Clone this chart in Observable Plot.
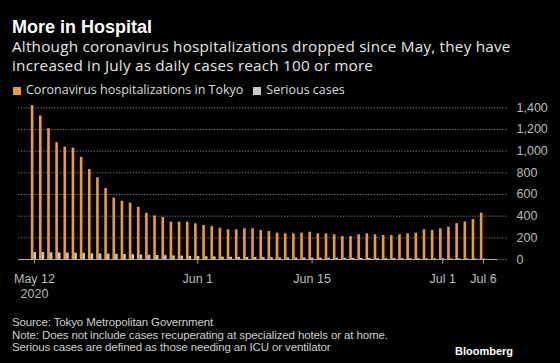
<!DOCTYPE html>
<html><head><meta charset="utf-8">
<script src="https://cdn.jsdelivr.net/npm/d3@7"></script>
<script src="https://cdn.jsdelivr.net/npm/@observablehq/plot@0.6"></script>
<style>
html,body{margin:0;padding:0;background:#000;}
body{width:560px;height:363px;position:relative;overflow:hidden;font-family:"Open Sans","Noto Sans",sans-serif;}
.t{position:absolute;white-space:nowrap;margin:0;}
#title{left:12px;top:18px;font-family:"Liberation Sans",Arial,sans-serif;font-weight:bold;font-size:18px;line-height:18px;color:#fff;}
#subtitle{left:12px;top:37px;font-size:15.3px;letter-spacing:0.2px;line-height:18.6px;color:#e6e6e6;}
#legend{left:13px;top:84px;font-size:12.5px;line-height:12.5px;color:#ddd;}
#legend span.sw{display:inline-block;width:8px;height:8px;margin-right:5px;vertical-align:-0.5px;}
#legend span.item{margin-right:10px;}
#chart{position:absolute;left:0;top:100px;}
#footer{left:12px;top:316px;font-family:"Liberation Sans Narrow","Liberation Sans",Arial,sans-serif;font-size:11.5px;letter-spacing:-0.12px;line-height:12.6px;color:#cfcfcf;}
#logo{left:455px;top:346px;font-family:"Liberation Sans",Arial,sans-serif;font-weight:bold;font-size:11px;line-height:11px;color:#fff;}
</style>
</head><body>
<div class="t" id="title">More in Hospital</div>
<div class="t" id="subtitle">Although coronavirus hospitalizations dropped since May, they have<br>increased in July as daily cases reach 100 or more</div>
<div class="t" id="legend"></div>
<div id="chart"></div>
<div class="t" id="footer">Source: Tokyo Metropolitan Government<br>Note: Does not include cases recuperating at specialized hotels or at home.<br>Serious cases are defined as those needing an ICU or ventilator</div>
<div class="t" id="logo">Bloomberg</div>
<script>
// ---- data ----
const startDate = "2020-05-12";
const endDate = "2020-07-06";
const hospitalized = [1420,1325,1207,1078,1037,1028,942,830,754,655,568,537,521,482,
  427,402,387,345,345,345,329,314,305,289,274,274,283,283,268,258,243,237,237,243,252,
  237,237,228,212,212,228,237,228,222,221,228,237,243,274,268,283,298,331,346,369,428];
const serious = [65,64,62,61,60,59,57,53,51,49,48,46,44,42,
  39,37,35,33,31,29,27,25,24,22,21,20,19,18,17,16,15,15,14,14,13,
  13,12,12,11,11,10,10,9,9,9,8,8,8,7,7,7,6,6,6,5,5];
const seriesNames = ["Coronavirus hospitalizations in Tokyo", "Serious cases"];
const seriesColors = ["#ec9a38", "#c8c8c8"];
const yTicks = [0,200,400,600,800,1000,1200,1400];
const xTickDates = ["2020-05-12","2020-06-01","2020-06-15","2020-07-01","2020-07-06"];
const xTickLabels = ["May 12\n2020","Jun 1","Jun 15","Jul 1","Jul 6"];

// ---- build ----
const DAY = 864e5;
const dates = d3.utcDay.range(new Date(startDate), d3.utcDay.offset(new Date(endDate), 1));
const rows = dates.map((d, i) => ({date: d, hosp: hospitalized[i], serious: serious[i]}));
const shift = (d, f) => new Date(+d + f * DAY);
const tickDates = xTickDates.map(s => new Date(s));
const labelOf = new Map(tickDates.map((d, i) => [+d, xTickLabels[i]]));

const legend = document.getElementById("legend");
legend.innerHTML = seriesNames.map((n, i) =>
  `<span class="item"><span class="sw" style="background:${seriesColors[i]}"></span>${n}</span>`).join("");

const x0 = new Date(startDate), x1 = new Date(endDate);
const plot = Plot.plot({
  width: 560,
  height: 200,
  marginTop: 7.3,
  marginBottom: 41,
  marginLeft: 18,
  marginRight: 53,
  style: {background: "transparent", color: "#bbb", fontFamily: "'Liberation Sans',Arial,sans-serif", fontSize: "12.5px", overflow: "visible"},
  x: {type: "utc", domain: [shift(x0, -1.96), shift(x1, 2.94)]},
  y: {domain: [0, 1400]},
  marks: [
    Plot.ruleY(yTicks, {stroke: "#7a7a7a", strokeDasharray: "1.3,1.5", strokeWidth: 1}),
    Plot.rectY(rows, {x1: d => shift(d.date, -0.39), x2: d => shift(d.date, -0.07), y: "hosp", fill: seriesColors[0]}),
    Plot.rectY(rows, {x1: d => shift(d.date, -0.07), x2: d => shift(d.date, 0.25), y: "serious", fill: seriesColors[1]}),
    Plot.ruleY([0], {x1: shift(x0, -1.96), x2: shift(x1, 1.7), stroke: "#a8a8a8", strokeWidth: 1}),
    Plot.axisX({ticks: tickDates, tickFormat: d => labelOf.get(+d), tickSize: 4.5, tickPadding: 8.5,
      stroke: "#a8a8a8", fill: "#bbb", label: null, fontSize: 12.5, lineHeight: 1.17}),
    Plot.axisY({anchor: "right", ticks: yTicks, tickFormat: d3.format(","), tickSize: 0, tickPadding: 9,
      fill: "#bbb", label: null, fontSize: 12.5})
  ]
});
document.getElementById("chart").appendChild(plot);
</script>
</body></html>
